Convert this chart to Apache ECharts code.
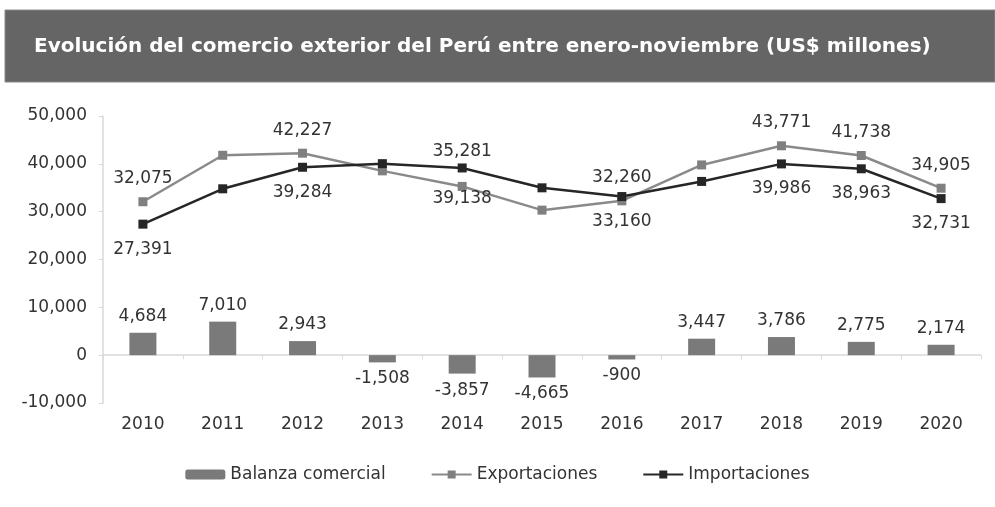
<!DOCTYPE html>
<html>
<head>
<meta charset="utf-8">
<script src="https://cdn.jsdelivr.net/npm/echarts@6/dist/echarts.min.js"></script>
<style>
  html, body { margin: 0; padding: 0; background: #fff; }
  #chart { width: 995px; height: 507px; }
</style>
</head>
<body>
<div id="chart"></div>
<script>
// datos
const years = ['2010', '2011', '2012', '2013', '2014', '2015', '2016', '2017', '2018', '2019', '2020']
const balanza = [4684, 7010, 2943, -1508, -3857, -4665, -900, 3447, 3786, 2775, 2174]
const exportaciones = [32075, 41790, 42227, 38530, 35281, 30320, 32260, 39770, 43771, 41738, 34905]
const importaciones = [27391, 34780, 39284, 40038, 39138, 34985, 33160, 36323, 39986, 38963, 32731]
// años con etiqueta en las lineas
const labeledYears = ['2010', '2012', '2014', '2016', '2018', '2019', '2020']
const yTicks = [-10000, 0, 10000, 20000, 30000, 40000, 50000]

const fmt = v => v.toLocaleString('en-US')
const font = '"DejaVu Sans", sans-serif'

const myChart = echarts.init(document.getElementById('chart'))

const lineData = (vals, pos, special) => vals.map((v, i) => {
  const show = labeledYears.includes(years[i])
  const item = { value: v, label: { show: show, position: pos } }
  if (special[years[i]]) item.label.offset = special[years[i]]
  return item
})

myChart.setOption({
  animation: false,
  backgroundColor: '#fff',
  graphic: [
    {
      type: 'rect',
      shape: { x: 5, y: 10, width: 990, height: 72 },
      style: { fill: '#656565', stroke: '#8a8a8a', lineWidth: 1 }
    },
    {
      type: 'text',
      left: 34, top: 37,
      style: {
        text: 'Evolución del comercio exterior del Perú entre enero-noviembre (US$ millones)',
        fill: '#fff', font: 'bold 20px ' + font
      }
    }
  ],
  legend: {
    top: 461,
    left: 'center',
    itemGap: 45,
    itemWidth: 40,
    itemHeight: 10,
    textStyle: { fontSize: 17, color: '#333', fontFamily: font },
    data: ['Balanza comercial', 'Exportaciones', 'Importaciones']
  },
  grid: { left: 103, right: 14, top: 116, bottom: 104 },
  xAxis: {
    type: 'category',
    data: years,
    axisLine: { onZero: true, lineStyle: { color: '#d9d9d9', width: 1.5 } },
    axisTick: { show: true, lineStyle: { color: '#d9d9d9' }, length: 4 },
    axisLabel: { fontSize: 17, color: '#333', fontFamily: font, margin: 13 }
  },
  yAxis: {
    type: 'value',
    min: yTicks[0],
    max: yTicks[yTicks.length - 1],
    interval: 10000,
    axisLine: { show: true, lineStyle: { color: '#d9d9d9', width: 1.5 } },
    axisTick: { show: true, lineStyle: { color: '#d9d9d9' }, length: 4 },
    splitLine: { show: false },
    axisLabel: { fontSize: 17, color: '#333', fontFamily: font, margin: 16, formatter: v => fmt(v) }
  },
  series: [
    {
      name: 'Balanza comercial',
      type: 'bar',
      barWidth: 27,
      itemStyle: { color: '#7a7a7a' },
      label: {
        show: true,
        fontSize: 17, color: '#333', fontFamily: font,
        formatter: p => fmt(p.value)
      },
      data: balanza.map(v => ({ value: v, label: { position: v < 0 ? 'bottom' : 'top', distance: 8 } }))
    },
    {
      name: 'Exportaciones',
      type: 'line',
      symbol: 'rect',
      symbolSize: 9,
      lineStyle: { color: '#8a8a8a', width: 2.5 },
      itemStyle: { color: '#808080' },
      label: { fontSize: 17, color: '#333', fontFamily: font, distance: 10, formatter: p => fmt(p.value) },
      data: lineData(exportaciones, 'top', { '2014': [0, -12] })
    },
    {
      name: 'Importaciones',
      type: 'line',
      symbol: 'rect',
      symbolSize: 9,
      lineStyle: { color: '#262626', width: 2.5 },
      itemStyle: { color: '#262626' },
      label: { fontSize: 17, color: '#333', fontFamily: font, distance: 12, formatter: p => fmt(p.value) },
      data: lineData(importaciones, 'bottom', { '2014': [0, 6] })
    }
  ]
})
</script>
</body>
</html>
